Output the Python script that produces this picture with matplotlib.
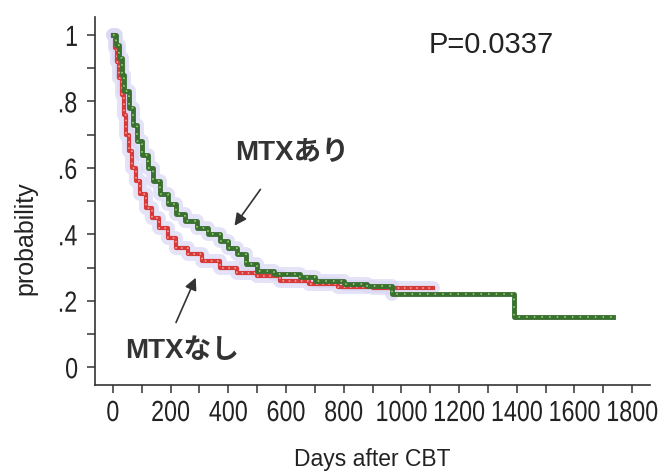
import matplotlib
matplotlib.use("Agg")
import matplotlib.pyplot as plt
from matplotlib.patheffects import AbstractPathEffect
from matplotlib.transforms import Affine2D

# Kaplan-Meier curves (days, probability)
mtx_yes_days = [0, 10, 20, 30, 40, 55, 70, 85, 100, 120, 140, 165, 190, 220, 250, 290,
                330, 370, 400, 430, 460, 500, 560, 650, 700, 800, 880, 967, 1390, 1735]
mtx_yes_prob = [1.0, 0.97, 0.93, 0.88, 0.83, 0.78, 0.73, 0.68, 0.64, 0.60, 0.56, 0.52, 0.49,
                0.46, 0.44, 0.42, 0.40, 0.38, 0.36, 0.34, 0.31, 0.29, 0.28, 0.27, 0.26, 0.25,
                0.245, 0.22, 0.15, 0.15]

mtx_no_days = [0, 8, 15, 22, 30, 38, 46, 55, 65, 80, 95, 115, 135, 160, 190, 220, 260,
               310, 370, 430, 500, 580, 680, 780, 900, 1110]
mtx_no_prob = [1.0, 0.96, 0.92, 0.87, 0.82, 0.76, 0.70, 0.65, 0.60, 0.56, 0.52, 0.48, 0.45,
               0.42, 0.39, 0.36, 0.34, 0.32, 0.30, 0.285, 0.275, 0.26, 0.25, 0.24, 0.238, 0.238]

x_ticks = [0, 200, 400, 600, 800, 1000, 1200, 1400, 1600, 1800]
y_ticks = [0, 0.2, 0.4, 0.6, 0.8, 1.0]
y_tick_labels = ["0", ".2", ".4", ".6", ".8", "1"]
p_text = "P=0.0337"

jp = ["Liberation Sans", "Noto Sans CJK JP"]


class Squeeze(AbstractPathEffect):
    # narrow the glyphs horizontally (no condensed font installed)
    def __init__(self, sx=0.8):
        super().__init__()
        self.sx = sx

    def draw_path(self, renderer, gc, tpath, affine, rgbFace=None):
        v = tpath.vertices
        cx = (v[:, 0].min() + v[:, 0].max()) / 2 if len(v) else 0
        t = Affine2D().translate(-cx, 0).scale(self.sx, 1).translate(cx, 0) + affine
        renderer.draw_path(gc, tpath, t, rgbFace)


fig = plt.figure(figsize=(6.62, 4.72), dpi=100)
ax = fig.add_axes([0.1435, 0.184, 0.8385, 0.78])

# confidence cloud (light lavender) behind the curves
ax.plot(mtx_yes_days[:-2], mtx_yes_prob[:-2], drawstyle="steps-post",
        color="#d8d6f4", lw=10, alpha=0.7, solid_capstyle="round")
ax.plot(mtx_no_days, mtx_no_prob, drawstyle="steps-post",
        color="#d8d6f4", lw=10, alpha=0.7, solid_capstyle="round")

ax.plot(mtx_no_days, mtx_no_prob, drawstyle="steps-post", color="#d83a3a", lw=3)
ax.plot(mtx_no_days, mtx_no_prob, drawstyle="steps-post", color="#f2b0b0", lw=1.1,
        linestyle=(0, (1, 3)))
ax.plot(mtx_yes_days, mtx_yes_prob, drawstyle="steps-post", color="#3a7032", lw=3.5)
ax.plot(mtx_yes_days, mtx_yes_prob, drawstyle="steps-post", color="#a6e06a", lw=1.1,
        linestyle=(0, (1, 4)))

ax.set_xlim(-62, 1862)
ax.set_ylim(-0.054, 1.054)

ax.spines["top"].set_visible(False)
ax.spines["right"].set_visible(False)
for s in ("left", "bottom"):
    ax.spines[s].set_color("#333333")
    ax.spines[s].set_linewidth(1.2)

ax.set_xticks(x_ticks)
ax.set_xticks(range(100, 1900, 200), minor=True)
ax.set_yticks(y_ticks)
ax.set_yticklabels(y_tick_labels)
ax.set_yticks([0.1, 0.3, 0.5, 0.7, 0.9], minor=True)
ax.tick_params(which="both", direction="out", length=6, width=1.1, color="#333333")
ax.tick_params(axis="x", labelsize=21, pad=4)
ax.tick_params(axis="y", labelsize=21, pad=5)
for lab in ax.get_xticklabels() + ax.get_yticklabels():
    lab.set_family("Liberation Sans")
    lab.set_color("#222222")
    lab.set_path_effects([Squeeze(0.8)])

ax.set_xlabel("Days after CBT", fontsize=16.5, family="Liberation Sans", color="#222222")
ax.xaxis.set_label_coords(0.5, -0.17)
ax.set_ylabel("probability", fontsize=18, family="Liberation Sans", color="#222222")
ax.yaxis.set_label_coords(-0.103, 0.40)

ax.text(1093, 0.97, p_text, fontsize=21, family="Liberation Sans", va="center",
        color="#222222")
ax.text(423, 0.645, "MTXあり", fontsize=20, family=jp, weight="bold", va="center",
        color="#333333")
ax.text(42, 0.05, "MTXなし", fontsize=20, family=jp, weight="bold", va="center",
        color="#333333")

arrow = dict(arrowstyle="-|>", color="#333333", lw=1.2, mutation_scale=18)
ax.annotate("", xy=(416, 0.419), xytext=(517, 0.542), arrowprops=arrow)
ax.annotate("", xy=(291, 0.277), xytext=(215, 0.127), arrowprops=arrow)

fig.savefig("out.png", dpi=100)
